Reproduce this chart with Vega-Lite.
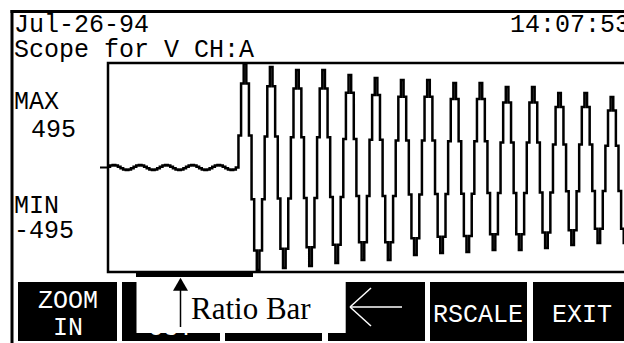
{
  "$schema": "https://vega.github.io/schema/vega-lite/v6.json",
  "width": 624,
  "height": 343,
  "padding": 0,
  "autosize": {"type": "none"},
  "background": "white",
  "config": {"view": {"stroke": null}},
  "datasets": {
    "ink": [
      {"part": "frame left", "x1": 10.5, "x2": 13.5, "y1": 10, "y2": 343},
      {"part": "frame top", "x1": 10.5, "x2": 624, "y1": 10, "y2": 13},
      {"part": "ratio bar", "x1": 136, "x2": 253, "y1": 271, "y2": 277},
      {"part": "ZOOM IN", "x1": 18, "x2": 117, "y1": 282, "y2": 341},
      {"part": "ZOOM OUT", "x1": 122, "x2": 220, "y1": 282, "y2": 341},
      {"part": "key 3", "x1": 225, "x2": 322, "y1": 282, "y2": 341},
      {"part": "back", "x1": 328, "x2": 425, "y1": 282, "y2": 341},
      {"part": "RSCALE", "x1": 430, "x2": 527, "y1": 282, "y2": 341},
      {"part": "EXIT", "x1": 533, "x2": 624, "y1": 282, "y2": 341}
    ],
    "plotbox": [{"part": "scope window", "x1": 108, "x2": 640, "y1": 63, "y2": 272}],
    "zerotick": [{"part": "zero marker", "x1": 100, "x2": 108, "y": 167.5}],
    "keys": [
      {"text": "ZOOM", "x": 68, "y": 308},
      {"text": "IN", "x": 68, "y": 335},
      {"text": "OUT", "x": 171, "y": 335},
      {"text": "RSCALE", "x": 478, "y": 322},
      {"text": "EXIT", "x": 582, "y": 322}
    ],
    "cover": [{"part": "callout", "x1": 136.5, "x2": 345.7, "y1": 277.5, "y2": 333}],
    "backarrow": [
      {"x1": 350, "y1": 307, "x2": 402, "y2": 307},
      {"x1": 350, "y1": 307, "x2": 371, "y2": 288},
      {"x1": 350, "y1": 307, "x2": 371, "y2": 326}
    ],
    "pointer": [{"x1": 180.5, "y1": 289, "x2": 180.5, "y2": 327}],
    "pointerhead": [{"x": 180.5, "y": 284.2}],
    "callouttext": [{"text": "Ratio Bar", "x": 191, "y": 319}],
    "screen": [
      {"text": "Jul-26-94", "x": 14, "y": 32},
      {"text": "14:07:53", "x": 510, "y": 32},
      {"text": "Scope for V CH:A", "x": 14, "y": 57},
      {"text": "MAX", "x": 14, "y": 109},
      {"text": "495", "x": 31, "y": 137},
      {"text": "MIN", "x": 14, "y": 213},
      {"text": "-495", "x": 14, "y": 238}
    ],
    "wave": [
      {"sample": -49, "volts": 3.7}, {"sample": -48, "volts": 9.7}, {"sample": -47, "volts": 12}, {"sample": -46, "volts": 9.7}, {"sample": -45, "volts": 3.7},
      {"sample": -44, "volts": -3.7}, {"sample": -43, "volts": -9.7}, {"sample": -42, "volts": -12}, {"sample": -41, "volts": -9.7}, {"sample": -40, "volts": -3.7},
      {"sample": -39, "volts": 3.7}, {"sample": -38, "volts": 9.7}, {"sample": -37, "volts": 12}, {"sample": -36, "volts": 9.7}, {"sample": -35, "volts": 3.7},
      {"sample": -34, "volts": -3.7}, {"sample": -33, "volts": -9.7}, {"sample": -32, "volts": -12}, {"sample": -31, "volts": -9.7}, {"sample": -30, "volts": -3.7},
      {"sample": -29, "volts": 3.7}, {"sample": -28, "volts": 9.7}, {"sample": -27, "volts": 12}, {"sample": -26, "volts": 9.7}, {"sample": -25, "volts": 3.7},
      {"sample": -24, "volts": -3.7}, {"sample": -23, "volts": -9.7}, {"sample": -22, "volts": -12}, {"sample": -21, "volts": -9.7}, {"sample": -20, "volts": -3.7},
      {"sample": -19, "volts": 3.7}, {"sample": -18, "volts": 9.7}, {"sample": -17, "volts": 12}, {"sample": -16, "volts": 9.7}, {"sample": -15, "volts": 3.7},
      {"sample": -14, "volts": -3.7}, {"sample": -13, "volts": -9.7}, {"sample": -12, "volts": -12}, {"sample": -11, "volts": -9.7}, {"sample": -10, "volts": -3.7},
      {"sample": -9, "volts": 3.7}, {"sample": -8, "volts": 9.7}, {"sample": -7, "volts": 12}, {"sample": -6, "volts": 9.7}, {"sample": -5, "volts": 3.7},
      {"sample": -4, "volts": -3.7}, {"sample": -3, "volts": -9.7}, {"sample": -2, "volts": -12}, {"sample": -1, "volts": -9.7},
      {"sample": 0, "volts": 0}, {"sample": 1, "volts": 152}, {"sample": 2, "volts": 398}, {"sample": 3, "volts": 492}, {"sample": 4, "volts": 398},
      {"sample": 5, "volts": 152}, {"sample": 6, "volts": -150}, {"sample": 7, "volts": -393}, {"sample": 8, "volts": -486}, {"sample": 9, "volts": -393},
      {"sample": 10, "volts": -150}, {"sample": 11, "volts": 147}, {"sample": 12, "volts": 385}, {"sample": 13, "volts": 476}, {"sample": 14, "volts": 385},
      {"sample": 15, "volts": 147}, {"sample": 16, "volts": -147}, {"sample": 17, "volts": -385}, {"sample": 18, "volts": -476}, {"sample": 19, "volts": -385},
      {"sample": 20, "volts": -147}, {"sample": 21, "volts": 143}, {"sample": 22, "volts": 374}, {"sample": 23, "volts": 462}, {"sample": 24, "volts": 374},
      {"sample": 25, "volts": 143}, {"sample": 26, "volts": -144}, {"sample": 27, "volts": -378}, {"sample": 28, "volts": -467}, {"sample": 29, "volts": -378},
      {"sample": 30, "volts": -144}, {"sample": 31, "volts": 143}, {"sample": 32, "volts": 374}, {"sample": 33, "volts": 462}, {"sample": 34, "volts": 374},
      {"sample": 35, "volts": 143}, {"sample": 36, "volts": -140}, {"sample": 37, "volts": -366}, {"sample": 38, "volts": -452}, {"sample": 39, "volts": -366},
      {"sample": 40, "volts": -140}, {"sample": 41, "volts": 135}, {"sample": 42, "volts": 354}, {"sample": 43, "volts": 438}, {"sample": 44, "volts": 354},
      {"sample": 45, "volts": 135}, {"sample": 46, "volts": -135}, {"sample": 47, "volts": -354}, {"sample": 48, "volts": -438}, {"sample": 49, "volts": -354},
      {"sample": 50, "volts": -135}, {"sample": 51, "volts": 131}, {"sample": 52, "volts": 343}, {"sample": 53, "volts": 424}, {"sample": 54, "volts": 343},
      {"sample": 55, "volts": 131}, {"sample": 56, "volts": -135}, {"sample": 57, "volts": -354}, {"sample": 58, "volts": -438}, {"sample": 59, "volts": -354},
      {"sample": 60, "volts": -135}, {"sample": 61, "volts": 128}, {"sample": 62, "volts": 335}, {"sample": 63, "volts": 414}, {"sample": 64, "volts": 335},
      {"sample": 65, "volts": 128}, {"sample": 66, "volts": -128}, {"sample": 67, "volts": -335}, {"sample": 68, "volts": -414}, {"sample": 69, "volts": -335},
      {"sample": 70, "volts": -128}, {"sample": 71, "volts": 128}, {"sample": 72, "volts": 335}, {"sample": 73, "volts": 414}, {"sample": 74, "volts": 335},
      {"sample": 75, "volts": 128}, {"sample": 76, "volts": -125}, {"sample": 77, "volts": -328}, {"sample": 78, "volts": -405}, {"sample": 79, "volts": -328},
      {"sample": 80, "volts": -125}, {"sample": 81, "volts": 124}, {"sample": 82, "volts": 324}, {"sample": 83, "volts": 400}, {"sample": 84, "volts": 324},
      {"sample": 85, "volts": 124}, {"sample": 86, "volts": -124}, {"sample": 87, "volts": -324}, {"sample": 88, "volts": -400}, {"sample": 89, "volts": -324},
      {"sample": 90, "volts": -124}, {"sample": 91, "volts": 124}, {"sample": 92, "volts": 324}, {"sample": 93, "volts": 400}, {"sample": 94, "volts": 324},
      {"sample": 95, "volts": 124}, {"sample": 96, "volts": -121}, {"sample": 97, "volts": -316}, {"sample": 98, "volts": -391}, {"sample": 99, "volts": -316},
      {"sample": 100, "volts": -121}, {"sample": 101, "volts": 118}, {"sample": 102, "volts": 308}, {"sample": 103, "volts": 381}, {"sample": 104, "volts": 308},
      {"sample": 105, "volts": 118}, {"sample": 106, "volts": -121}, {"sample": 107, "volts": -316}, {"sample": 108, "volts": -391}, {"sample": 109, "volts": -316},
      {"sample": 110, "volts": -121}, {"sample": 111, "volts": 118}, {"sample": 112, "volts": 308}, {"sample": 113, "volts": 381}, {"sample": 114, "volts": 308},
      {"sample": 115, "volts": 118}, {"sample": 116, "volts": -118}, {"sample": 117, "volts": -308}, {"sample": 118, "volts": -381}, {"sample": 119, "volts": -308},
      {"sample": 120, "volts": -118}, {"sample": 121, "volts": 109}, {"sample": 122, "volts": 286}, {"sample": 123, "volts": 353}, {"sample": 124, "volts": 286},
      {"sample": 125, "volts": 109}, {"sample": 126, "volts": -113}, {"sample": 127, "volts": -297}, {"sample": 128, "volts": -367}, {"sample": 129, "volts": -297},
      {"sample": 130, "volts": -113}, {"sample": 131, "volts": 109}, {"sample": 132, "volts": 286}, {"sample": 133, "volts": 353}, {"sample": 134, "volts": 286},
      {"sample": 135, "volts": 109}, {"sample": 136, "volts": -111}, {"sample": 137, "volts": -290}, {"sample": 138, "volts": -358}, {"sample": 139, "volts": -290},
      {"sample": 140, "volts": -111}, {"sample": 141, "volts": 103}, {"sample": 142, "volts": 270}, {"sample": 143, "volts": 334}, {"sample": 144, "volts": 270},
      {"sample": 145, "volts": 103}, {"sample": 146, "volts": -111}, {"sample": 147, "volts": -290}, {"sample": 148, "volts": -358}, {"sample": 149, "volts": -290}
    ]
  },
  "resolve": {"scale": {"x": "independent", "y": "independent"}},
  "layer": [
    {
      "layer": [
        {
          "data": {"name": "ink"},
          "mark": {"type": "rect", "color": "black"},
          "encoding": {
            "x": {"field": "x1", "type": "quantitative", "scale": {"domain": [0, 624], "nice": false, "zero": false}, "axis": null},
            "x2": {"field": "x2"},
            "y": {"field": "y1", "type": "quantitative", "scale": {"domain": [0, 343], "nice": false, "zero": false, "reverse": true}, "axis": null},
            "y2": {"field": "y2"}
          }
        },
        {
          "data": {"name": "plotbox"},
          "mark": {"type": "rect", "filled": false, "stroke": "black", "strokeWidth": 2.5},
          "encoding": {
            "x": {"field": "x1", "type": "quantitative", "axis": null},
            "x2": {"field": "x2"},
            "y": {"field": "y1", "type": "quantitative", "axis": null},
            "y2": {"field": "y2"}
          }
        },
        {
          "data": {"name": "zerotick"},
          "mark": {"type": "rule", "color": "black", "strokeWidth": 2},
          "encoding": {
            "x": {"field": "x1", "type": "quantitative", "axis": null},
            "x2": {"field": "x2"},
            "y": {"field": "y", "type": "quantitative", "axis": null}
          }
        },
        {
          "data": {"name": "keys"},
          "mark": {"type": "text", "color": "white", "font": "Liberation Mono", "fontSize": 25, "align": "center", "baseline": "alphabetic"},
          "encoding": {
            "x": {"field": "x", "type": "quantitative", "axis": null},
            "y": {"field": "y", "type": "quantitative", "axis": null},
            "text": {"field": "text"}
          }
        },
        {
          "data": {"name": "backarrow"},
          "mark": {"type": "rule", "color": "white", "strokeWidth": 1.5},
          "encoding": {
            "x": {"field": "x1", "type": "quantitative", "axis": null},
            "x2": {"field": "x2"},
            "y": {"field": "y1", "type": "quantitative", "axis": null},
            "y2": {"field": "y2"}
          }
        },
        {
          "data": {"name": "cover"},
          "mark": {"type": "rect", "color": "white"},
          "encoding": {
            "x": {"field": "x1", "type": "quantitative", "axis": null},
            "x2": {"field": "x2"},
            "y": {"field": "y1", "type": "quantitative", "axis": null},
            "y2": {"field": "y2"}
          }
        },
        {
          "data": {"name": "pointer"},
          "mark": {"type": "rule", "color": "black", "strokeWidth": 1.5},
          "encoding": {
            "x": {"field": "x1", "type": "quantitative", "axis": null},
            "x2": {"field": "x2"},
            "y": {"field": "y1", "type": "quantitative", "axis": null},
            "y2": {"field": "y2"}
          }
        },
        {
          "data": {"name": "pointerhead"},
          "mark": {"type": "point", "shape": "triangle-up", "size": 225, "filled": true, "color": "black", "opacity": 1},
          "encoding": {
            "x": {"field": "x", "type": "quantitative", "axis": null},
            "y": {"field": "y", "type": "quantitative", "axis": null}
          }
        },
        {
          "data": {"name": "callouttext"},
          "mark": {"type": "text", "color": "black", "font": "Liberation Serif", "fontSize": 31, "align": "left", "baseline": "alphabetic"},
          "encoding": {
            "x": {"field": "x", "type": "quantitative", "axis": null},
            "y": {"field": "y", "type": "quantitative", "axis": null},
            "text": {"field": "text"}
          }
        },
        {
          "data": {"name": "screen"},
          "mark": {"type": "text", "color": "black", "font": "Liberation Mono", "fontSize": 25, "align": "left", "baseline": "alphabetic"},
          "encoding": {
            "x": {"field": "x", "type": "quantitative", "axis": null},
            "y": {"field": "y", "type": "quantitative", "axis": null},
            "text": {"field": "text"}
          }
        }
      ]
    },
    {
      "data": {"name": "wave"},
      "mark": {"type": "line", "interpolate": "step", "color": "black", "strokeWidth": 2.5},
      "encoding": {
        "x": {"field": "sample", "type": "quantitative", "scale": {"domain": [-90.48, 147.6], "nice": false, "zero": false}, "axis": null},
        "y": {"field": "volts", "type": "quantitative", "scale": {"domain": [-831.3, 793.4], "nice": false, "zero": false}, "axis": null}
      }
    }
  ]
}
